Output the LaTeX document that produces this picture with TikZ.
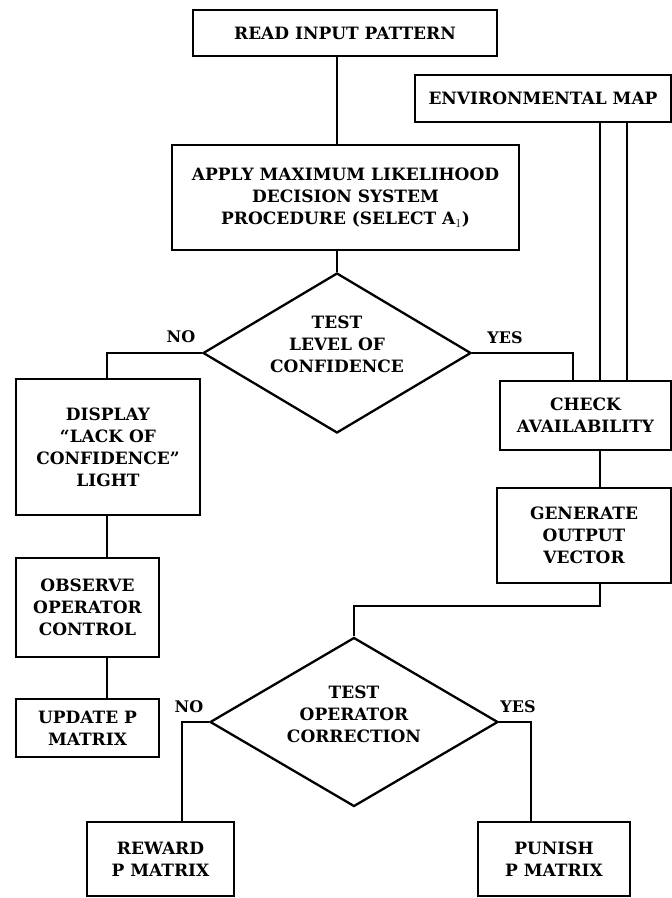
\documentclass[tikz,border=0pt]{standalone}
\usepackage{fontspec}
\setmainfont{DejaVu Serif}
\usetikzlibrary{shapes.geometric,calc}
\tikzset{
  box/.style={draw, line width=2.6pt, inner sep=0pt, align=center, font=\fontsize{17}{22}\selectfont\bfseries},
  dia/.style={draw, line width=2.3pt, shape=diamond, inner sep=0pt},
  txt/.style={inner sep=0pt, align=center, font=\fontsize{17}{22}\selectfont\bfseries},
  lbl/.style={inner sep=0pt, font=\fontsize{16}{18}\selectfont\bfseries},
  conn/.style={line width=2.2pt}
}
\begin{document}
\begin{tikzpicture}[x=1pt,y=-1pt]
\useasboundingbox (0,0) rectangle (672,898);
\coordinate (colx) at (600,0);
\node[box, minimum width=304pt, minimum height=46pt] (read) at (345,33) {READ INPUT PATTERN};
\node[box, minimum width=256pt, minimum height=47pt] (env) at (543,98.5) {ENVIRONMENTAL MAP};
\node[box, minimum width=347pt, minimum height=105pt] (apply) at (345.5,197.5) {APPLY MAXIMUM LIKELIHOOD\\DECISION SYSTEM\\PROCEDURE (SELECT A$_1$)};
\node[dia, minimum width=268pt, minimum height=160pt] (dec1) at (337,353) {};
\node[txt] (dec1t) at (337,344) {TEST\\LEVEL OF\\CONFIDENCE};
\node[box, minimum width=184pt, minimum height=136pt] (display) at (108,447) {DISPLAY\\``LACK OF\\CONFIDENCE''\\LIGHT};
\node[box, minimum width=143pt, minimum height=99pt] (observe) at (87.5,607.5) {OBSERVE\\OPERATOR\\CONTROL};
\node[box, minimum width=143pt, minimum height=58pt] (update) at (87.5,728) {UPDATE P\\MATRIX};
\node[box, minimum width=171pt, minimum height=69pt] (check) at (585.5,415.5) {CHECK\\AVAILABILITY};
\node[box, minimum width=174pt, minimum height=95pt] (gen) at (584,535.5) {GENERATE\\OUTPUT\\VECTOR};
\node[dia, minimum width=288pt, minimum height=169pt] (dec2) at (354,722) {};
\node[txt] (dec2t) at (354,714) {TEST\\OPERATOR\\CORRECTION};
\node[box, minimum width=147pt, minimum height=74pt] (reward) at (160.5,859) {REWARD\\P MATRIX};
\node[box, minimum width=152pt, minimum height=74pt] (punish) at (554,859) {PUNISH\\P MATRIX};
\node[lbl] (no1) at (181,337) {NO};
\node[lbl] (yes1) at (505,338) {YES};
\node[lbl] (no2) at (189,707) {NO};
\node[lbl] (yes2) at (518,707) {YES};
% connectors
\draw[conn] (read.south -| dec1.north) -- (apply.north -| dec1.north);
\draw[conn] (apply.south -| dec1.north) -- (dec1.north);
\draw[conn] (dec1.west) -| ([xshift=-1pt]display.north);
\draw[conn] (dec1.east) -| ([xshift=-12.5pt]check.north);
\draw[conn] (env.south -| colx) -- (check.north -| colx);
\draw[conn] ([xshift=84pt]env.south) -- ([xshift=84pt]env.south |- check.north);
\draw[conn] ([xshift=-1pt]display.south) -- ([xshift=-1pt]display.south |- observe.north);
\draw[conn] ([xshift=-1pt]display.south |- observe.south) -- ([xshift=-1pt]display.south |- update.north);
\draw[conn] (check.south -| colx) -- (gen.north -| colx);
\draw[conn] (gen.south -| colx) -- ++(0,22) -| (dec2.north);
\draw[conn] (dec2.west) -| ([xshift=21.5pt]reward.north);
\draw[conn] (dec2.east) -| ([xshift=-23pt]punish.north);
\end{tikzpicture}
\end{document}
